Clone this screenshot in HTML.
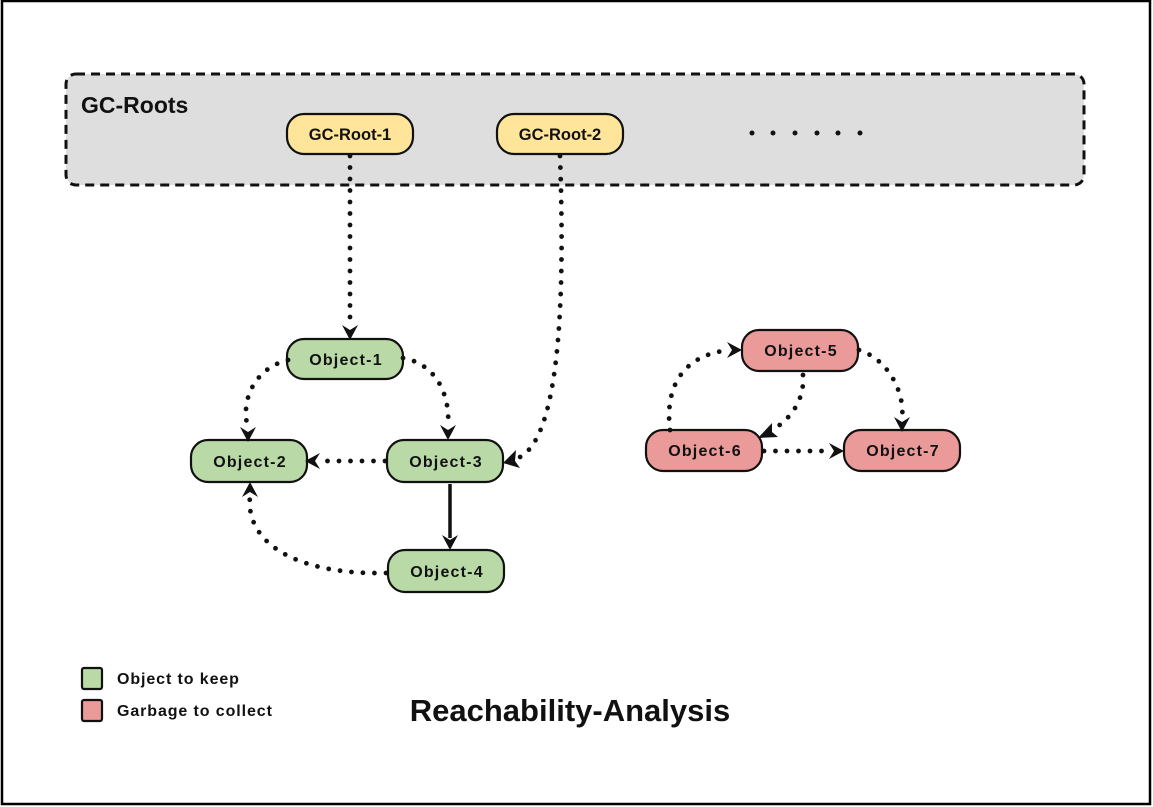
<!DOCTYPE html>
<html><head><meta charset="utf-8">
<style>
html,body{margin:0;padding:0;background:#fff;}
svg{display:block;}
text{font-family:"Liberation Sans",sans-serif;font-weight:bold;fill:#111;}
</style></head><body>
<svg width="1153" height="807" viewBox="0 0 1153 807" xmlns="http://www.w3.org/2000/svg">
<rect x="2" y="1" width="1148" height="803" fill="#fff" stroke="#000" stroke-width="2.5"/>
<rect x="66" y="74" width="1018" height="111" rx="10" fill="#dedede" stroke="#111" stroke-width="3" stroke-dasharray="9 6"/>
<text x="81" y="113" font-size="23">GC-Roots</text>

<g stroke="#111" stroke-width="2.2">
<rect x="287" y="114" width="126" height="40" rx="17" fill="#ffe59a"/>
<rect x="497" y="114" width="126" height="40" rx="17" fill="#ffe59a"/>
<rect x="287" y="339" width="116" height="40" rx="17" fill="#b9d9a7"/>
<rect x="191" y="440" width="116" height="42" rx="17" fill="#b9d9a7"/>
<rect x="387" y="440" width="116" height="42" rx="17" fill="#b9d9a7"/>
<rect x="388" y="550" width="116" height="42" rx="17" fill="#b9d9a7"/>
<rect x="742" y="330" width="116" height="41" rx="17" fill="#ea9a99"/>
<rect x="646" y="430" width="116" height="41" rx="17" fill="#ea9a99"/>
<rect x="844" y="430" width="116" height="41" rx="17" fill="#ea9a99"/>
<rect x="82" y="668" width="20" height="21" rx="2" fill="#b9d9a7"/>
<rect x="82" y="700" width="20" height="21" rx="2" fill="#ea9a99"/>
</g>

<g font-size="16.5" text-anchor="middle">
<text x="350" y="140">GC-Root-1</text>
<text x="560" y="140">GC-Root-2</text>
</g>
<g font-size="16" text-anchor="middle" letter-spacing="1.2">
<text x="346" y="365">Object-1</text>
<text x="250" y="467">Object-2</text>
<text x="446" y="467">Object-3</text>
<text x="447" y="577">Object-4</text>
<text x="801" y="356">Object-5</text>
<text x="705" y="456">Object-6</text>
<text x="903" y="456">Object-7</text>
</g>
<g fill="#111">
<circle cx="752" cy="133" r="2.5"/><circle cx="773" cy="133" r="2.5"/><circle cx="795" cy="133" r="2.5"/>
<circle cx="817" cy="133" r="2.5"/><circle cx="838" cy="133" r="2.5"/><circle cx="860" cy="133" r="2.5"/>
</g>

<g fill="none" stroke="#111" stroke-width="4.8" stroke-linecap="round" stroke-dasharray="0 11.5">
<path d="M350 156 L350 326"/>
<path d="M560 156 C565 300 560 440 518 458"/>
<path d="M288 360 C255 368 240 400 248 428"/>
<path d="M403 358 C440 365 450 400 448 426"/>
<path d="M385 461 L318 461"/>
<path d="M386 573 C300 575 245 545 250 496"/>
<path d="M670 430 C665 390 680 355 730 350"/>
<path d="M803 375 C805 400 790 420 772 430"/>
<path d="M859 350 C890 360 905 395 902 418"/>
<path d="M764 451 L832 451"/>
</g>
<path d="M450 484 L450 538" stroke="#111" stroke-width="3.5" fill="none"/>
<g fill="#111">
<path d="M342 325 L350 340 L358 325 L350 330 Z"/>
<path d="M240 427 L248 442 L256 427 L248 432 Z"/>
<path d="M440 425 L448 440 L456 425 L448 430 Z"/>
<path d="M442 535 L450 550 L458 535 L450 540 Z"/>
<path d="M320 453 L305 461 L320 469 L315 461 Z"/>
<path d="M516 450 L503 463 L520 468 L515 461 Z"/>
<path d="M242 497 L250 482 L258 497 L250 492 Z"/>
<path d="M727 342 L742 350 L727 358 L732 350 Z"/>
<path d="M772 423 L758 438 L778 437 L772 432 Z"/>
<path d="M894 417 L902 432 L910 417 L902 422 Z"/>
<path d="M829 443 L844 451 L829 459 L834 451 Z"/>
</g>

<text x="117" y="684" font-size="16" letter-spacing="0.9">Object to keep</text>
<text x="117" y="716" font-size="16" letter-spacing="0.9">Garbage to collect</text>
<text x="570" y="721" font-size="31" text-anchor="middle">Reachability-Analysis</text>
</svg>
</body></html>
